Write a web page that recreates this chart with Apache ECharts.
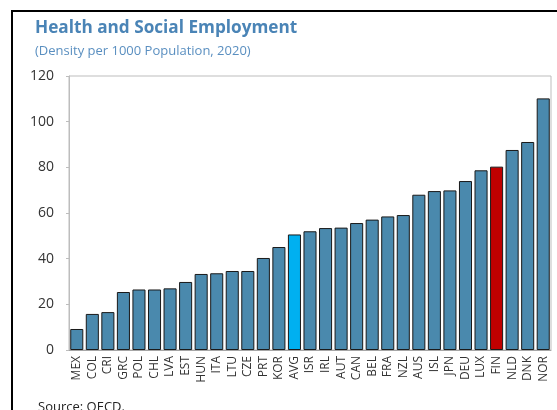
<!DOCTYPE html>
<html>
<head>
<meta charset="utf-8">
<script src="https://cdn.jsdelivr.net/npm/echarts@6/dist/echarts.min.js"></script>
<style>
  html, body { margin: 0; padding: 0; background: #fff; }
  #chart { width: 557px; height: 410px; }
</style>
</head>
<body>
<div id="chart"></div>
<script>
// Health and social employment per 1000 population, 2020
const countries = ['MEX','COL','CRI','GRC','POL','CHL','LVA','EST','HUN','ITA','LTU','CZE','PRT','KOR','AVG','ISR','IRL','AUT','CAN','BEL','FRA','NZL','AUS','ISL','JPN','DEU','LUX','FIN','NLD','DNK','NOR'];
const density = [9.2, 15.8, 16.6, 25.4, 26.5, 26.5, 27.0, 29.8, 33.3, 33.6, 34.6, 34.6, 40.3, 45.1, 50.6, 52.0, 53.4, 53.6, 55.6, 57.1, 58.5, 59.1, 68.0, 69.6, 69.9, 74.0, 78.7, 80.3, 87.6, 91.1, 110.2];
const yTicks = [0, 20, 40, 60, 80, 100, 120];

const baseColor = '#4a89ad';
const highlight = { AVG: '#00b0f0', FIN: '#c00000' };

const chart = echarts.init(document.getElementById('chart'));
chart.setOption({
  animation: false,
  textStyle: { fontFamily: 'Open Sans' },
  title: [
    {
      text: 'Health and Social Employment',
      left: 30, top: 15,
      textStyle: { fontFamily: 'Open Sans', fontSize: 17.2, fontWeight: 'bold', color: '#4a84b6' }
    },
    {
      text: '(Density per 1000 Population, 2020)',
      left: 30, top: 40,
      textStyle: { fontFamily: 'Open Sans', fontSize: 13, fontWeight: 'normal', color: '#5a8fc0' }
    }
  ],
  graphic: [
    { type: 'line', shape: { x1: 11, y1: 11, x2: 557, y2: 11 }, style: { stroke: '#000', lineWidth: 2 } },
    { type: 'line', shape: { x1: 12, y1: 10, x2: 12, y2: 410 }, style: { stroke: '#000', lineWidth: 2 } },
    { type: 'rect', shape: { x: 69, y: 76, width: 482, height: 274 }, style: { fill: 'none', stroke: '#bdbdbd', lineWidth: 1 }, z: -1 },
    { type: 'text', left: 38, top: 401, style: { text: 'Source: OECD.', fontFamily: 'Open Sans', fontSize: 13, fill: '#222' } }
  ],
  grid: { left: 69, right: 6, top: 76, bottom: 60, containLabel: false },
  xAxis: {
    type: 'category',
    data: countries,
    axisLine: { lineStyle: { color: '#a6a6a6', width: 1 } },
    axisTick: { show: false },
    axisLabel: { rotate: 90, fontSize: 12, color: '#333', margin: 6, interval: 0 }
  },
  yAxis: {
    type: 'value',
    min: yTicks[0], max: yTicks[yTicks.length - 1], interval: 20,
    axisLine: { show: true, lineStyle: { color: '#bdbdbd' } },
    axisTick: { show: true, length: 3, lineStyle: { color: '#bdbdbd' } },
    splitLine: { show: false },
    axisLabel: { fontSize: 14, color: '#333', margin: 15 }
  },
  series: [{
    type: 'bar',
    barCategoryGap: '16%',
    data: density.map((v, i) => ({
      value: v,
      itemStyle: { color: highlight[countries[i]] || baseColor }
    })),
    itemStyle: { borderColor: '#1a1a1a', borderWidth: 1 }
  }]
});
</script>
</body>
</html>
